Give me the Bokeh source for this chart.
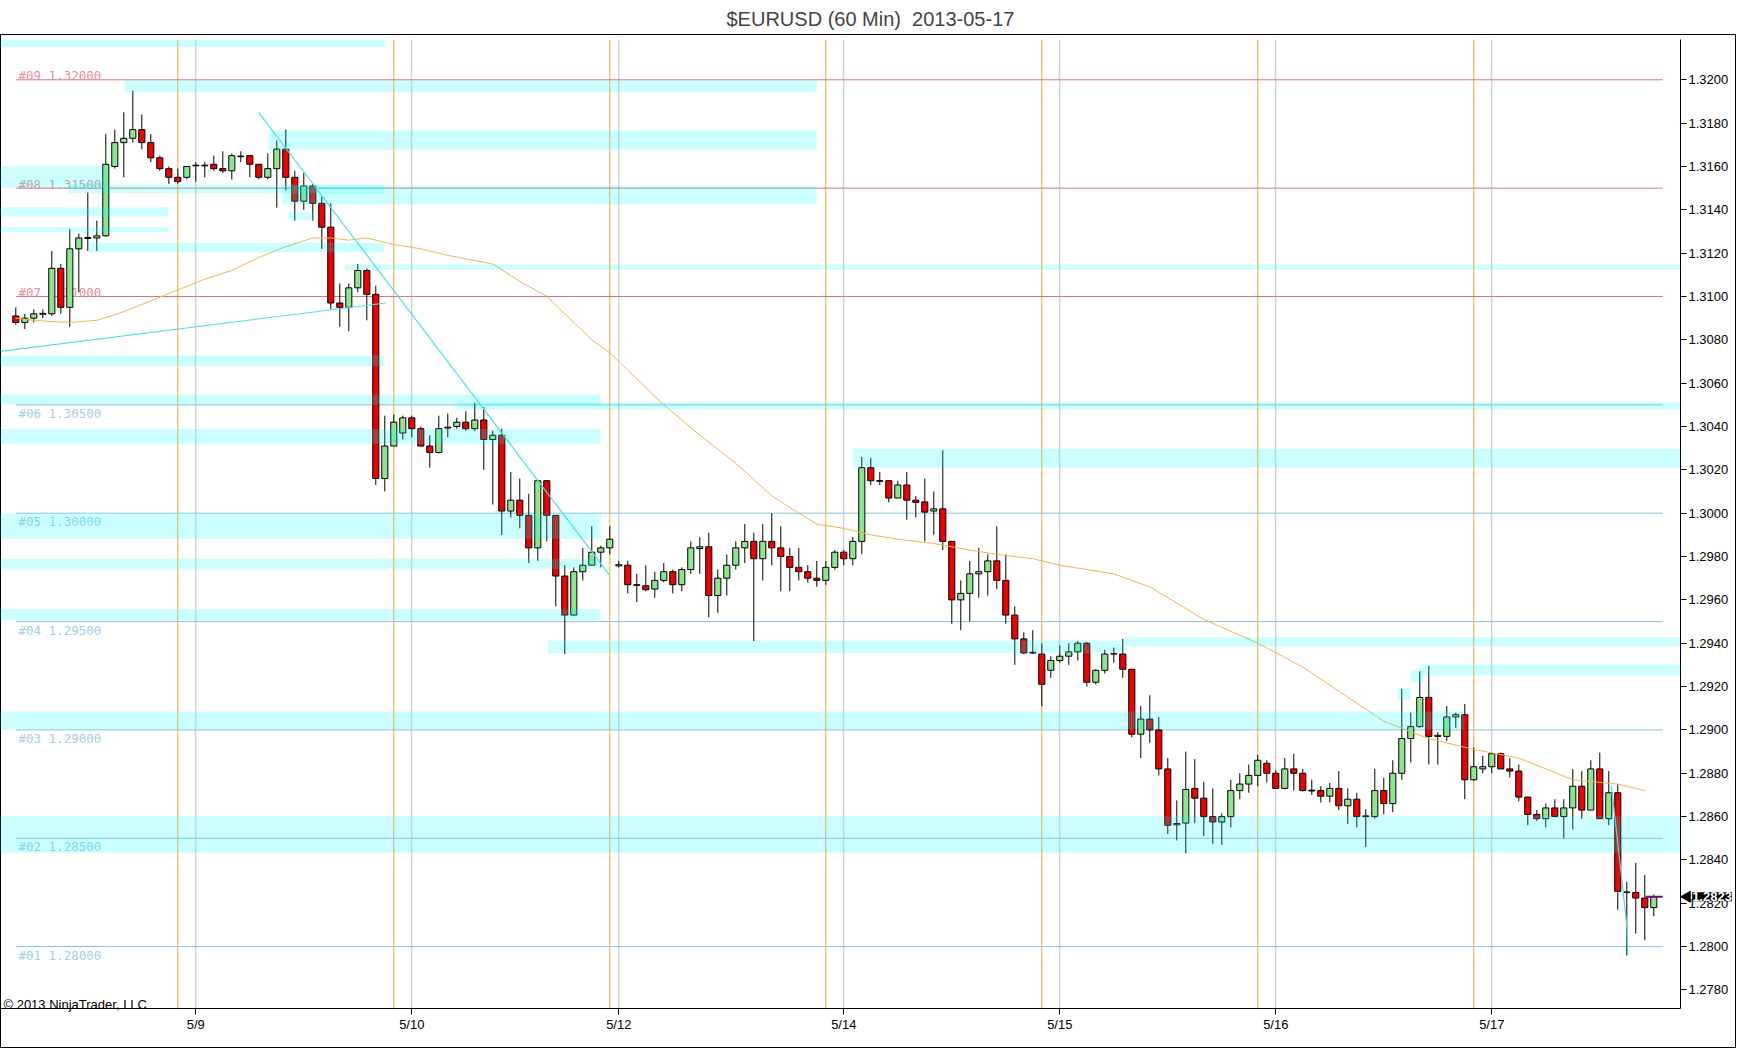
from math import pi
from bokeh.plotting import figure
from bokeh.models import ColumnDataSource, FixedTicker, Label, PrintfTickFormatter
from bokeh.core.properties import value
from bokeh.embed import file_html
from bokeh.resources import INLINE

# hourly EURUSD bars (bar index = hour)
bar_open = [
    1.3091, 1.3088, 1.3090, 1.30918, 1.3092, 1.3113, 1.3095, 1.3122, 1.31268, 1.3127,
    1.3128, 1.3160, 1.3171, 1.3173, 1.3177, 1.3171, 1.3164, 1.3159, 1.3155, 1.3155,
    1.31603, 1.31603, 1.3161, 1.3159, 1.3158, 1.31645, 1.3165, 1.3161, 1.3155, 1.3159,
    1.3168, 1.3155, 1.3144, 1.3151, 1.3143, 1.3132, 1.3097, 1.3095, 1.3104, 1.3112,
    1.3101, 1.3016, 1.3031, 1.3037, 1.3044, 1.3039, 1.3031, 1.3028, 1.30393, 1.3040,
    1.3042, 1.3039, 1.3043, 1.3034, 1.3036, 1.3001, 1.3006, 1.2999, 1.2984, 1.3015,
    1.2999, 1.2971, 1.2953, 1.2973, 1.2976, 1.2982, 1.2984, 1.29757, 1.2976, 1.2967,
    1.29665, 1.2965, 1.2969, 1.2973, 1.2967, 1.2974, 1.29837, 1.29845, 1.2962, 1.2970,
    1.2976, 1.2984, 1.2987, 1.2979, 1.2987, 1.2984, 1.2980, 1.2975, 1.2973, 1.2970,
    1.2969, 1.2975, 1.2982, 1.2979, 1.2987, 1.3021, 1.3015, 1.3015, 1.3007, 1.3013,
    1.3006, 1.30052, 1.3001, 1.3002, 1.2987, 1.2960, 1.2963, 1.2972, 1.2973, 1.2978,
    1.2969, 1.2953, 1.2942, 1.29358, 1.2935, 1.29275, 1.2932, 1.2934, 1.2936, 1.2940,
    1.2922, 1.29275, 1.29352, 1.2935, 1.2928, 1.2898, 1.2905, 1.2900, 1.2882, 1.28562,
    1.2857, 1.2873, 1.28685, 1.2860, 1.28575, 1.2860, 1.2872, 1.2875, 1.2879, 1.28846,
    1.2880, 1.2873, 1.2882, 1.2880, 1.28722, 1.2872, 1.28694, 1.2873, 1.2865, 1.2868,
    1.28603, 1.2860, 1.2872, 1.2866, 1.2880, 1.2896, 1.29015, 1.2915, 1.2897, 1.2897,
    1.2906, 1.2907, 1.2877, 1.2882, 1.2883, 1.2889, 1.2882, 1.2881, 1.2869, 1.2861,
    1.2859, 1.2864, 1.2860, 1.2864, 1.2874, 1.2863, 1.2882, 1.2859, 1.2871, 1.28252,
    1.2825, 1.28224, 1.2818,
]
bar_high = [
    1.3095, 1.3092, 1.3094, 1.3094, 1.3121, 1.3115, 1.3131, 1.3129, 1.3148, 1.3135,
    1.3175, 1.3177, 1.3185, 1.3195, 1.3184, 1.3175, 1.3165, 1.3160, 1.3159, 1.3160,
    1.3162, 1.3162, 1.3165, 1.3167, 1.3166, 1.3167, 1.3165, 1.3161, 1.3166, 1.3172,
    1.3177, 1.3158, 1.3157, 1.3152, 1.3146, 1.3143, 1.3106, 1.3106, 1.3115, 1.3113,
    1.3105, 1.3045, 1.30455, 1.3045, 1.3045, 1.3040, 1.3036, 1.3045, 1.3046, 1.3044,
    1.3047, 1.3051, 1.3049, 1.3038, 1.3039, 1.3019, 1.3016, 1.3009, 1.3015, 1.3015,
    1.2999, 1.2976, 1.2975, 1.2984, 1.2994, 1.2985, 1.2994, 1.2978, 1.2978, 1.2972,
    1.2976, 1.2973, 1.2977, 1.2974, 1.2975, 1.2987, 1.2989, 1.2991, 1.2974, 1.2981,
    1.2987, 1.2995, 1.2991, 1.2995, 1.3000, 1.2994, 1.2984, 1.2984, 1.2976, 1.2978,
    1.2978, 1.2983, 1.2983, 1.2989, 1.3026, 1.30255, 1.3019, 1.3015, 1.3015, 1.3019,
    1.3008, 1.3016, 1.3010, 1.3029, 1.2987, 1.2969, 1.2978, 1.2984, 1.2981, 1.2994,
    1.2981, 1.2957, 1.2945, 1.2946, 1.2940, 1.2934, 1.2939, 1.2940, 1.2941, 1.29406,
    1.2928, 1.2937, 1.2938, 1.2942, 1.2928, 1.2911, 1.2916, 1.2906, 1.2887, 1.28675,
    1.2890, 1.28865, 1.2876, 1.2873, 1.28615, 1.2877, 1.2880, 1.2884, 1.28885, 1.2886,
    1.28814, 1.2887, 1.2889, 1.2882, 1.2877, 1.2874, 1.28755, 1.2881, 1.2873, 1.2871,
    1.28634, 1.2882, 1.2878, 1.2886, 1.2919, 1.2908, 1.2927, 1.29295, 1.2899, 1.2911,
    1.2908, 1.2912, 1.2892, 1.2888, 1.28895, 1.28895, 1.2887, 1.2884, 1.2869, 1.2863,
    1.2866, 1.2868, 1.2868, 1.2882, 1.2881, 1.2886, 1.28895, 1.2881, 1.2875, 1.2830,
    1.28386, 1.2833, 1.2824,
]
bar_low = [
    1.3087, 1.3085, 1.3088, 1.3090, 1.3091, 1.3092, 1.3086, 1.3102, 1.3121, 1.3121,
    1.31276, 1.3159, 1.3155, 1.3171, 1.3168, 1.3162, 1.3158, 1.3152, 1.3152, 1.3154,
    1.3153, 1.3155, 1.3158, 1.3157, 1.3154, 1.3162, 1.3155, 1.3154, 1.3154, 1.3141,
    1.3149, 1.3135, 1.3140, 1.3135, 1.3122, 1.3094, 1.3086, 1.3084, 1.3102, 1.3089,
    1.3013, 1.3010, 1.3031, 1.3034, 1.3035, 1.3031, 1.3021, 1.30276, 1.3035, 1.3039,
    1.3038, 1.3038, 1.3020, 1.3004, 1.2990, 1.2998, 1.2993, 1.2977, 1.2978, 1.2987,
    1.2957, 1.2935, 1.2953, 1.2969, 1.2976, 1.2975, 1.2981, 1.2975, 1.2963, 1.2959,
    1.2964, 1.2961, 1.2968, 1.2963, 1.2964, 1.2972, 1.2972, 1.2952, 1.2954, 1.2962,
    1.2974, 1.2977, 1.2941, 1.2969, 1.2976, 1.2964, 1.2964, 1.2969, 1.2968, 1.2966,
    1.2967, 1.2974, 1.2976, 1.2976, 1.2981, 1.3013, 1.3013, 1.3005, 1.3007, 1.2997,
    1.2998, 1.2987, 1.2990, 1.2983, 1.2949, 1.2946, 1.2950, 1.2961, 1.2962, 1.2965,
    1.2949, 1.2930, 1.2935, 1.2935, 1.2911, 1.2924, 1.2931, 1.2930, 1.2932, 1.2920,
    1.2921, 1.2926, 1.2931, 1.2924, 1.28965, 1.2887, 1.2894, 1.2879, 1.2852, 1.2849,
    1.2843, 1.2857, 1.2851, 1.28475, 1.2847, 1.2855, 1.2868, 1.2871, 1.2874, 1.28757,
    1.2873, 1.28726, 1.2872, 1.28715, 1.2870, 1.28665, 1.28665, 1.2863, 1.28565, 1.2855,
    1.2846, 1.2859, 1.2861, 1.2862, 1.2877, 1.2885, 1.2901, 1.2884, 1.2884, 1.2895,
    1.2901, 1.2868, 1.28765, 1.2880, 1.2880, 1.2882, 1.2878, 1.2867, 1.2856, 1.2858,
    1.2855, 1.2860, 1.2850, 1.2854, 1.2859, 1.2863, 1.2859, 1.2856, 1.2817, 1.2796,
    1.2806, 1.2803, 1.2814,
]
bar_close = [
    1.3088, 1.3090, 1.3092, 1.30922, 1.3113, 1.3095, 1.3122, 1.3127, 1.31272, 1.3128,
    1.3161, 1.3171, 1.3173, 1.3177, 1.3171, 1.3164, 1.3159, 1.3155, 1.3153, 1.3160,
    1.31606, 1.31606, 1.3159, 1.3158, 1.3165, 1.31648, 1.3161, 1.3155, 1.3159, 1.3168,
    1.3155, 1.3144, 1.3151, 1.3143, 1.3132, 1.3097, 1.3095, 1.3104, 1.3112, 1.3101,
    1.3016, 1.3031, 1.3042, 1.3044, 1.3039, 1.3031, 1.3028, 1.3039, 1.30397, 1.3042,
    1.3039, 1.3043, 1.3034, 1.3036, 1.3001, 1.3006, 1.2999, 1.2984, 1.3015, 1.2999,
    1.2971, 1.2953, 1.2973, 1.2976, 1.2982, 1.2984, 1.2988, 1.29762, 1.2967, 1.29667,
    1.29647, 1.2969, 1.2973, 1.2967, 1.2974, 1.2984, 1.29845, 1.2962, 1.2970, 1.2976,
    1.2984, 1.2987, 1.2979, 1.2987, 1.2984, 1.2980, 1.2975, 1.2973, 1.2970, 1.2969,
    1.2975, 1.2982, 1.2979, 1.2987, 1.3021, 1.3015, 1.30147, 1.3007, 1.3013, 1.3006,
    1.3005, 1.30005, 1.3002, 1.2987, 1.2960, 1.2963, 1.2972, 1.2973, 1.2978, 1.2969,
    1.2953, 1.2942, 1.29355, 1.29355, 1.2921, 1.2932, 1.2934, 1.2936, 1.2940, 1.2922,
    1.29275, 1.2935, 1.2935, 1.2928, 1.2898, 1.2905, 1.2900, 1.2882, 1.2856, 1.28568,
    1.28725, 1.28685, 1.2860, 1.28575, 1.2860, 1.2872, 1.2875, 1.2879, 1.2886, 1.2880,
    1.2873, 1.2882, 1.2880, 1.2872, 1.28718, 1.28694, 1.2873, 1.2865, 1.2868, 1.2860,
    1.2860, 1.2872, 1.2866, 1.2880, 1.2896, 1.29015, 1.2915, 1.2897, 1.28975, 1.2906,
    1.2907, 1.2877, 1.2883, 1.2883, 1.2889, 1.2882, 1.2881, 1.2869, 1.2861, 1.2859,
    1.2864, 1.2860, 1.2864, 1.2874, 1.2863, 1.2882, 1.2859, 1.2871, 1.28255, 1.2825,
    1.28224, 1.2818, 1.2823,
]

# moving average, sampled along the drawn curve
ma_x = [0, 2, 6, 9, 12, 15, 18, 21, 24, 27, 30, 33, 35, 37, 39, 42, 45, 48, 53, 56,
        59, 64, 66, 72, 76, 80, 84, 87, 89, 92, 95, 98, 102, 106, 109, 113, 116, 122,
        126, 132, 138, 143, 152, 157, 162, 167, 173, 178, 181]
ma_y = [1.3090, 1.3089, 1.3088, 1.3089, 1.3093, 1.3098, 1.3103, 1.3108, 1.3112, 1.3118,
        1.3123, 1.3127, 1.3127, 1.3126, 1.3127, 1.3124, 1.3122, 1.3119, 1.3115, 1.3107,
        1.3100, 1.3080, 1.3074, 1.3050, 1.3036, 1.3023, 1.3008, 1.3000, 1.2995, 1.2993,
        1.2990, 1.2988, 1.2986, 1.2983, 1.2981, 1.2979, 1.2976, 1.2972, 1.2966, 1.2951,
        1.2940, 1.2929, 1.2904, 1.2896, 1.2891, 1.2887, 1.2877, 1.2875, 1.2872]

# day labels on the time axis and session-start markers
day_ticks = [20, 44, 67, 92, 116, 140, 164]
day_labels = ["5/9", "5/10", "5/12", "5/14", "5/15", "5/16", "5/17"]
session_starts = [18, 42, 66, 90, 114, 138, 162]

price_ticks = [1.2780, 1.2800, 1.2820, 1.2840, 1.2860, 1.2880, 1.2900, 1.2920, 1.2940,
               1.2960, 1.2980, 1.3000, 1.3020, 1.3040, 1.3060, 1.3080, 1.3100, 1.3120,
               1.3140, 1.3160, 1.3180, 1.3200]

# numbered horizontal levels
upper_levels = [1.32000, 1.31500, 1.31000]
upper_names = ["#09", "#08", "#07"]
lower_levels = [1.30500, 1.30000, 1.29500, 1.29000, 1.28500, 1.28000]
lower_names = ["#06", "#05", "#04", "#03", "#02", "#01"]

# supply / demand zones (bar index from-to, price from-to)
zone_left = [-2, 12.1, 28.1, -2, 5.9, 29.6, 30.3, -2, -2, 8.1, 36.6, -2, -2, 49.0, -2, -2,
             -2, -2, 59.1, 123.1, 93.0, -2, 153.5, 155.0, 156.0, -2]
zone_right = [41.0, 89.0, 89.0, 10.0, 40.9, 89.0, 33.0, 17.0, 17.0, 40.9, 184.97, 40.9, 65.0,
              184.97, 65.0, 65.0, 65.0, 65.0, 123.1, 184.97, 184.97, 160.9, 155.0, 156.4,
              184.97, 184.97]
zone_bottom = [1.32150, 1.31943, 1.31677, 1.31502, 1.31477, 1.31424, 1.31351, 1.31369,
               1.31297, 1.31204, 1.31123, 1.30678, 1.30502, 1.30479, 1.30320, 1.29882,
               1.29743, 1.29505, 1.29354, 1.29385, 1.30212, 1.29002, 1.29136, 1.29220,
               1.29251, 1.28433]
zone_top = [1.32185, 1.31997, 1.31766, 1.31600, 1.31517, 1.31512, 1.31389, 1.31412,
            1.31320, 1.31248, 1.31148, 1.30728, 1.30548, 1.30512, 1.30389, 1.29997,
            1.29790, 1.29559, 1.29413, 1.29428, 1.30297, 1.29085, 1.29192, 1.29273,
            1.29302, 1.28601]

# drawn trend lines
trend_up_x = [-1.7, 41.1]
trend_up_y = [1.30747, 1.30970]
trend_down_x = [27.0, 66.0]
trend_down_y = [1.31848, 1.29713]
trend_last_x = [177.3, 179.0, 179.1]
trend_last_y = [1.2874, 1.2810, 1.2796]

# price pane: axis positions inside a framed panel
axis_x = 184.97
axis_y = 1.277143
pane_top = 1.321846

n = len(bar_close)
idx = list(range(n))
src = ColumnDataSource(dict(
    x=idx, high=bar_high, low=bar_low,
    top=[max(o, c) for o, c in zip(bar_open, bar_close)],
    bottom=[min(o, c) for o, c in zip(bar_open, bar_close)],
    color=["#8FE48F" if c >= o else "#F00000" for o, c in zip(bar_open, bar_close)],
))

p = figure(width=1736, height=1048, x_range=(-1.7, 191.08), y_range=(1.275344, 1.322090),
           y_axis_location="right", output_backend="svg", toolbar_location=None,
           min_border_left=0, min_border_right=1, min_border_top=34, min_border_bottom=1,
           title="$EURUSD (60 Min)\u00a0 2013-05-17")
p.title.text_font = "Liberation Sans"
p.title.text_font_size = "20px"
p.title.text_font_style = "normal"
p.title.align = "left"
p.title.offset = 726
p.title.standoff = 10
p.outline_line_color = "black"
p.outline_line_width = 1
p.background_fill_color = "white"
p.grid.grid_line_color = None

p.xaxis.ticker = FixedTicker(ticks=day_ticks)
p.xaxis.major_label_overrides = {t: s for t, s in zip(day_ticks, day_labels)}
p.xaxis.fixed_location = axis_y
p.xaxis.bounds = (-1.7, axis_x)
p.yaxis.ticker = FixedTicker(ticks=price_ticks)
p.yaxis.formatter = PrintfTickFormatter(format="%.4f")
p.yaxis.fixed_location = axis_x
p.yaxis.bounds = (axis_y, pane_top)
for ax in (p.xaxis[0], p.yaxis[0]):
    ax.axis_line_color = "black"
    ax.major_tick_line_color = "black"
    ax.major_tick_out = 6
    ax.major_tick_in = 0
    ax.minor_tick_line_color = None
    ax.major_label_text_font = "Liberation Sans"
    ax.major_label_text_font_size = "13px"
    ax.major_label_text_color = "black"
    ax.major_label_standoff = 2

# day lines and session start lines
p.segment(x0=day_ticks, y0=axis_y, x1=day_ticks, y1=pane_top, color="#C4C4C4", line_width=1)
p.segment(x0=session_starts, y0=axis_y, x1=session_starts, y1=pane_top, color="#F0A830", line_width=1)

# numbered levels
p.segment(x0=0, y0=upper_levels, x1=183, y1=upper_levels, color="#E07080", line_width=1)
p.segment(x0=0, y0=lower_levels, x1=183, y1=lower_levels, color="#8CC4D8", line_width=1)
p.text(x=0.3, y=upper_levels, text=[f"{nm} {lv:.5f}" for nm, lv in zip(upper_names, upper_levels)],
       text_font=value("DejaVu Sans Mono"), text_font_size="12.5px", text_color="#E8909A",
       text_baseline="alphabetic", y_offset=-4)
p.text(x=0.3, y=lower_levels, text=[f"{nm} {lv:.5f}" for nm, lv in zip(lower_names, lower_levels)],
       text_font=value("DejaVu Sans Mono"), text_font_size="12.5px", text_color="#A2CFE2",
       text_baseline="top", y_offset=1)

# candles
p.segment(x0="x", y0="low", x1="x", y1="high", source=src, color="black", line_width=1)
p.vbar(x="x", width=0.68, top="top", bottom="bottom", fill_color="color",
       line_color="black", line_width=1, source=src)

# moving average and trend lines
p.line(ma_x, ma_y, color="#F2B552", line_width=1)
p.line(trend_up_x, trend_up_y, color="#48E0E6", line_width=1.2)
p.line(trend_down_x, trend_down_y, color="#48E0E6", line_width=1.2)
p.line(trend_last_x, trend_last_y, color="#48E0E6", line_width=1.2)

# zones on top, translucent
p.quad(left=zone_left, right=zone_right, bottom=zone_bottom, top=zone_top,
       fill_color="aqua", fill_alpha=0.2, line_color=None)

# last price marker on the price axis
last = bar_close[-1]
p.segment(x0=[181.1], y0=[last], x1=[183.0], y1=[last], color="#800080", line_width=2)
p.scatter(x=[185.7], y=[last], marker="triangle", angle=pi / 2, size=11,
          fill_color="black", line_color="black")
p.add_layout(Label(x=188.47, y=last, text=f"{last:.4f}", text_color="white",
                   text_font="Liberation Sans", text_font_size="13px", text_font_style="bold",
                   text_align="center", text_baseline="middle", background_fill_color="black"))

p.add_layout(Label(x=-1.37, y=1.277328, text="\u00a9 2013 NinjaTrader, LLC", text_color="black",
                   text_font="Liberation Sans", text_font_size="13px", text_baseline="alphabetic"))

open("out.html", "w").write(file_html(p, INLINE))
